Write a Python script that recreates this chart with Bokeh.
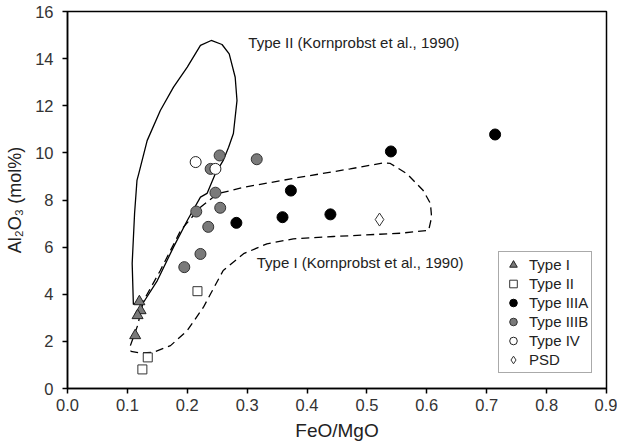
from bokeh.plotting import figure
from bokeh.models import Range1d, FixedTicker, Legend, LegendItem, PrintfTickFormatter
from bokeh.core.properties import value
from bokeh.embed import file_html
from bokeh.resources import INLINE

FONT = "Liberation Sans"

# Axis ticks
x_ticks = [0.0, 0.1, 0.2, 0.3, 0.4, 0.5, 0.6, 0.7, 0.8, 0.9]
y_ticks = [0, 2, 4, 6, 8, 10, 12, 14, 16]

# Samples: FeO/MgO vs Al2O3 (mol%)
type1_x = [0.120, 0.122, 0.117, 0.113]
type1_y = [3.69, 3.31, 3.10, 2.25]

type2_x = [0.134, 0.125, 0.217]
type2_y = [1.32, 0.81, 4.13]

type3a_x = [0.282, 0.359, 0.373, 0.439, 0.540, 0.714]
type3a_y = [7.03, 7.27, 8.40, 7.39, 10.06, 10.78]

type3b_x = [0.195, 0.222, 0.235, 0.215, 0.255, 0.247, 0.239, 0.254, 0.316]
type3b_y = [5.15, 5.71, 6.86, 7.51, 7.67, 8.31, 9.32, 9.89, 9.73]

type4_x = [0.214, 0.247]
type4_y = [9.61, 9.32]

psd_x = [0.521]
psd_y = [7.17]

# Kornprobst et al. (1990) fields
field2_x = [0.110, 0.108, 0.112, 0.116, 0.119, 0.133, 0.155, 0.177, 0.200, 0.222,
            0.240, 0.258, 0.270, 0.280, 0.283, 0.277, 0.269, 0.260, 0.247, 0.233,
            0.222, 0.200, 0.177, 0.150, 0.127, 0.110]
field2_y = [3.57, 5.31, 7.43, 8.83, 9.12, 10.52, 11.80, 12.79, 13.64, 14.56,
            14.77, 14.60, 14.20, 13.21, 12.22, 10.82, 10.24, 9.68, 9.12, 8.28,
            8.12, 7.13, 6.00, 4.58, 3.66, 3.57]

field1_x = [0.105, 0.117, 0.127, 0.155, 0.189, 0.222, 0.250, 0.294, 0.389, 0.472,
            0.528, 0.539, 0.567, 0.594, 0.606, 0.608, 0.603, 0.556, 0.444, 0.377,
            0.333, 0.294, 0.260, 0.239, 0.227, 0.200, 0.172, 0.144, 0.122, 0.106,
            0.105]
field1_y = [1.82, 2.67, 3.73, 5.01, 6.71, 7.69, 8.26, 8.54, 8.97, 9.32,
            9.58, 9.55, 9.11, 8.40, 7.85, 7.27, 6.71, 6.59, 6.45, 6.35,
            6.14, 5.72, 5.01, 4.02, 3.45, 2.46, 1.82, 1.54, 1.50, 1.58,
            1.82]

field2_label = "Type II (Kornprobst et al., 1990)"
field1_label = "Type I (Kornprobst et al., 1990)"
field2_label_xy = (0.302, 14.69)
field1_label_xy = (0.316, 5.35)

p = figure(width=617, height=448, output_backend="svg", toolbar_location=None,
           x_range=Range1d(0, 0.9), y_range=Range1d(0, 16),
           min_border_left=67, min_border_right=11, min_border_top=11,
           min_border_bottom=60)
p.background_fill_color = "white"
p.border_fill_color = "white"
p.grid.visible = False
p.outline_line_color = "black"
p.outline_line_width = 1.5

p.xaxis.ticker = FixedTicker(ticks=x_ticks)
p.yaxis.ticker = FixedTicker(ticks=y_ticks)
p.xaxis.formatter = PrintfTickFormatter(format="%.1f")
for ax in (p.xaxis, p.yaxis):
    ax.axis_line_color = "black"
    ax.axis_line_width = 1.5
    ax.major_tick_line_color = "black"
    ax.major_tick_line_width = 1.5
    ax.major_tick_out = 5
    ax.major_tick_in = 0
    ax.minor_tick_line_color = None
    ax.major_label_text_font = FONT
    ax.major_label_text_font_size = "16.5px"
    ax.major_label_text_color = "#333333"
    ax.axis_label_text_font = FONT
    ax.axis_label_text_font_style = "normal"
    ax.axis_label_text_color = "#222222"
p.xaxis.axis_label_text_font_size = "19px"
p.yaxis.axis_label_text_font_size = "18px"
p.xaxis.major_label_standoff = 5
p.yaxis.major_label_standoff = 9
p.xaxis.axis_label = "FeO/MgO"
p.yaxis.axis_label = "Al₂O₃ (mol%)"
p.xaxis.axis_label_standoff = 6
p.yaxis.axis_label_standoff = 7

# Fields
p.line(field2_x, field2_y, line_color="black", line_width=1.3)
p.line(field1_x, field1_y, line_color="black", line_width=1.3, line_dash="8 5")

p.text([field2_label_xy[0]], [field2_label_xy[1]], text=[field2_label],
       text_font=value(FONT), text_font_size="15px", text_color="#222222",
       text_baseline="middle", text_align="left")
p.text([field1_label_xy[0]], [field1_label_xy[1]], text=[field1_label],
       text_font=value(FONT), text_font_size="15px", text_color="#222222",
       text_baseline="middle", text_align="left")

# Samples
gray = "#7a7a7a"
r1 = p.scatter(type1_x, type1_y, marker="triangle", size=11, fill_color=gray,
               line_color="#222222", line_width=1)
r2 = p.scatter(type2_x, type2_y, marker="square", size=9, fill_color="white",
               line_color="#333333", line_width=1)
r3a = p.scatter(type3a_x, type3a_y, marker="circle", size=11, fill_color="black",
                line_color="black", line_width=1)
r3b = p.scatter(type3b_x, type3b_y, marker="circle", size=11, fill_color=gray,
                line_color="#333333", line_width=1)
r4 = p.scatter(type4_x, type4_y, marker="circle", size=11, fill_color="white",
               line_color="#222222", line_width=1)
rp = p.scatter(psd_x, psd_y, marker="diamond", size=13, fill_color="white",
               line_color="#333333", line_width=1)

legend = Legend(items=[
    LegendItem(label="Type I", renderers=[r1]),
    LegendItem(label="Type II", renderers=[r2]),
    LegendItem(label="Type IIIA", renderers=[r3a]),
    LegendItem(label="Type IIIB", renderers=[r3b]),
    LegendItem(label="Type IV", renderers=[r4]),
    LegendItem(label="PSD", renderers=[rp]),
], location=(431, 15))
legend.glyph_width = 22
legend.glyph_height = 19
legend.label_height = 17
legend.spacing = 0
legend.padding = 3
legend.margin = 0
legend.label_standoff = 5
legend.label_text_font = FONT
legend.label_text_font_size = "15px"
legend.label_text_color = "#222222"
legend.border_line_color = "#555555"
legend.border_line_width = 1
legend.background_fill_color = "white"
legend.background_fill_alpha = 1
p.add_layout(legend)

open("out.html", "w").write(file_html(p, INLINE))
